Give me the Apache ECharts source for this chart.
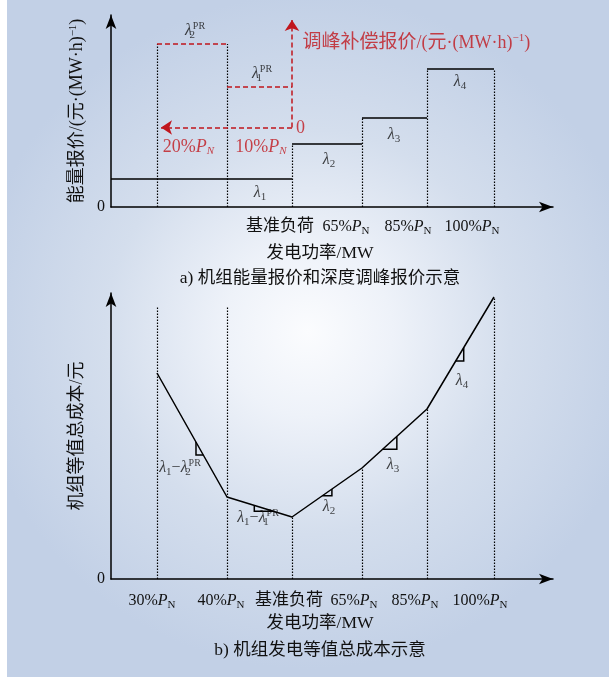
<!DOCTYPE html>
<html>
<head>
<meta charset="utf-8">
<script src="https://cdn.jsdelivr.net/npm/echarts@6/dist/echarts.min.js"></script>
<style>
  html, body { margin: 0; padding: 0; background: #fff; }
  #main { width: 609px; height: 677px; }
</style>
</head>
<body>
<div id="main"></div>
<script>
// load levels on the power axis (schematic positions)
var loadNames = ['30%', '40%', '基准负荷', '65%', '85%', '100%'];
var loadX = [4.6, 11.6, 18.1, 25.1, 31.6, 38.3];
// a) energy price steps lambda1..lambda4
var energyPrice = [2.8, 6.3, 8.95, 13.8];
// deep peak regulation price: zero of its own axis, lambda1PR, lambda2PR above it
var prZero = 7.95;
var prPrice = [4.1, 8.35];
// b) equivalent total cost at each load level
var totalCost = [20.6, 8.2, 6.2, 11.1, 17.0, 28.2];

var SERIF = "'Liberation Serif', 'Noto Sans CJK SC', serif";
var INK = '#111111';
var RED = '#c0161d';
var topMax = 19.2, botMax = 28.6, xMax = 44.2;

function richSet(color) {
  return {
    t: { fontFamily: SERIF, fontSize: 16, color: color, lineHeight: 20 },
    cn: { fontFamily: SERIF, fontSize: 17, color: color, lineHeight: 20 },
    i: { fontFamily: SERIF, fontSize: 16, fontStyle: 'italic', color: color, lineHeight: 20 },
    s: { fontFamily: SERIF, fontSize: 11, color: color, verticalAlign: 'bottom', lineHeight: 13 },
    si: { fontFamily: SERIF, fontSize: 11, fontStyle: 'italic', color: color, verticalAlign: 'bottom', lineHeight: 13 },
    k: { fontFamily: SERIF, fontSize: 11, color: color, verticalAlign: 'bottom', lineHeight: 13, width: 1 },
    p: { fontFamily: SERIF, fontSize: 10, color: color, verticalAlign: 'top', lineHeight: 11 }
  };
}
var blackRich = richSet(INK);
var redRich = richSet(RED);
redRich.t.fontSize = 18;
redRich.i.fontSize = 18;
redRich.cn.fontSize = 19;
redRich.p.fontSize = 11;
// tick labels sit a little left of their load level in the original (axis units)
var tickShift = [0.5, 0.6, 0.3, 0.8, 1.2, 1.4];
var tickShiftTop = [0, 0, 1.2, 1.6, 1.9, 2.2];

function lam(n) { return '{i|λ}{s|' + n + '}'; }
function lamPR(n) { return '{i|λ}{k|' + n + '}{p|PR}'; }
function nearestLoad(v) {
  var best = 0;
  loadX.forEach(function (x, i) { if (Math.abs(x - v) < Math.abs(loadX[best] - v)) best = i; });
  return best;
}
function tickText(v) {
  var name = loadNames[nearestLoad(v)];
  return name.indexOf('%') >= 0 ? '{t|' + name + '}{i|P}{s|N}' : '{cn|' + name + '}';
}

// a) segments
var stepEdges = [0, loadX[2], loadX[3], loadX[4], loadX[5]];
var stepLines = energyPrice.map(function (v, i) {
  return { coords: [[stepEdges[i], v], [stepEdges[i + 1], v]] };
});
var prTop = prZero + prPrice[1];
var prMid = prZero + prPrice[0];
var topDots = [
  [loadX[0], prTop], [loadX[1], prTop], [loadX[2], energyPrice[1]],
  [loadX[3], energyPrice[2]], [loadX[4], energyPrice[3]], [loadX[5], energyPrice[3]]
].map(function (p) { return { coords: [[p[0], 0], p] }; });
var prLines = [
  { coords: [[loadX[0], prTop], [loadX[1], prTop]] },
  { coords: [[loadX[1], prMid], [loadX[2], prMid]] }
];
var prArrows = [
  { coords: [[loadX[2], prZero], [loadX[2], topMax - 0.5]] },
  { coords: [[loadX[2], prZero], [loadX[0] + 0.4, prZero]] }
];

// b) segments
var costPts = loadX.map(function (x, i) { return [x, totalCost[i]]; });
var botDots = costPts.map(function (p, i) {
  return { coords: [[p[0], 0], [p[0], i < 2 ? 27.3 : p[1]]] };
});
// slope marks: [fraction along segment, length fraction]
var slopeMarks = [[0.557, 0.104], [0.42, 0.29], [0.434, 0.136], [0.319, 0.217], [0.428, 0.12]];
function onCurve(i, t) {
  return [loadX[i] + (loadX[i + 1] - loadX[i]) * t, totalCost[i] + (totalCost[i + 1] - totalCost[i]) * t];
}
var triangles = slopeMarks.map(function (m, i) {
  var a = onCurve(i, m[0]), b = onCurve(i, m[0] + m[1]);
  var corner = totalCost[i + 1] < totalCost[i] ? [a[0], b[1]] : [b[0], a[1]];
  return { coords: [a, corner, b] };
});

function textItem(pos, fmt, rich, where) {
  return {
    value: pos,
    label: { show: true, formatter: fmt, rich: rich, position: where || 'inside', distance: 0 }
  };
}
var topLabels = [
  textItem([8.4, 17.6], lamPR(2), blackRich),
  textItem([15.1, 13.3], lamPR(1), blackRich),
  textItem([14.9, 1.4], lam(1), blackRich),
  textItem([21.8, 4.7], lam(2), blackRich),
  textItem([28.3, 7.2], lam(3), blackRich),
  textItem([34.9, 12.5], lam(4), blackRich),
  textItem([7.75, 6.0], '{t|20%}{i|P}{si|N}', redRich),
  textItem([15.0, 6.0], '{t|10%}{i|P}{si|N}', redRich),
  textItem([18.45, 7.9], '{t|0}', redRich, 'right'),
  textItem([19.1, 16.4], '{cn|调峰补偿报价}{t|/(}{cn|元}{t|·(MW·h)}{p|−1}{t|)}', redRich, 'right')
];
var botLabels = [
  textItem([6.9, 11.1], lam(1) + '{t|−}' + lamPR(2), blackRich),
  textItem([14.7, 6.1], lam(1) + '{t|−}' + lamPR(1), blackRich),
  textItem([21.8, 7.2], lam(2), blackRich),
  textItem([28.2, 11.4], lam(3), blackRich),
  textItem([35.1, 19.8], lam(4), blackRich)
];

function xAxisCfg(grid, first, shifts, margin) {
  var vals = [];
  for (var i = first; i < loadX.length; i++) vals.push(loadX[i] - shifts[i]);
  return {
    gridIndex: grid, type: 'value', min: 0, max: xMax,
    axisLine: { symbol: ['none', 'arrow'], symbolSize: [8, 14], lineStyle: { color: '#000', width: 1.5 } },
    axisTick: { show: false }, splitLine: { show: false },
    axisLabel: {
      customValues: vals, margin: margin, rich: blackRich, hideOverlap: false,
      showMinLabel: true, showMaxLabel: true, formatter: tickText
    }
  };
}
function yAxisCfg(grid, max, name, gap) {
  return {
    gridIndex: grid, type: 'value', min: 0, max: max,
    name: name, nameLocation: 'middle', nameGap: gap, nameRotate: 90,
    nameTextStyle: {
      fontFamily: SERIF, fontSize: 18, color: INK,
      rich: { sup: { fontFamily: SERIF, fontSize: 11, color: INK, verticalAlign: 'top', lineHeight: 10 } }
    },
    axisLine: { symbol: ['none', 'arrow'], symbolSize: [8, 14], lineStyle: { color: '#000', width: 1.5 } },
    axisTick: { show: false }, splitLine: { show: false },
    axisLabel: { customValues: [0], margin: 6, fontFamily: SERIF, fontSize: 16, color: INK }
  };
}

var dotted = { color: '#000', width: 1.2, type: [1.5, 1.5], opacity: 1 };
var redDash = { color: RED, width: 1.5, type: [5, 3], opacity: 1 };
var solid = { color: '#000', width: 1.5, opacity: 1 };

function caption(text, y) {
  return { type: 'text', x: 320, y: y, silent: true,
    style: { text: text, font: '17.5px ' + SERIF, fill: INK, align: 'center', verticalAlign: 'middle' } };
}

var option = {
  backgroundColor: '#ffffff',
  animation: false,
  graphic: [
    {
      type: 'rect', z: -10, silent: true,
      shape: { x: 7, y: 0, width: 602, height: 677 },
      style: {
        fill: new echarts.graphic.RadialGradient(0.5, 0.49, 0.56, [
          { offset: 0, color: '#fbfcfe' },
          { offset: 0.25, color: '#eef2f9' },
          { offset: 0.6, color: '#d4deed' },
          { offset: 1, color: '#c2d0e6' }
        ])
      }
    },
    caption('发电功率/MW', 253),
    caption('a) 机组能量报价和深度调峰报价示意', 278),
    caption('发电功率/MW', 623),
    caption('b) 机组发电等值总成本示意', 650)
  ],
  grid: [
    { left: 111, top: 15, width: 442, height: 192 },
    { left: 111, top: 293, width: 442, height: 286 }
  ],
  xAxis: [
    xAxisCfg(0, 2, tickShiftTop, 10),
    xAxisCfg(1, 0, tickShift, 12)
  ],
  yAxis: [
    yAxisCfg(0, topMax, '能量报价/(元·(MW·h){sup|−1})', 24),
    yAxisCfg(1, botMax, '机组等值总成本/元', 24)
  ],
  series: [
    { type: 'lines', coordinateSystem: 'cartesian2d', xAxisIndex: 0, yAxisIndex: 0, silent: true,
      data: topDots, lineStyle: dotted },
    { type: 'lines', coordinateSystem: 'cartesian2d', xAxisIndex: 0, yAxisIndex: 0, silent: true,
      data: stepLines, lineStyle: solid },
    { type: 'lines', coordinateSystem: 'cartesian2d', xAxisIndex: 0, yAxisIndex: 0, silent: true,
      data: prLines, lineStyle: redDash },
    { type: 'lines', coordinateSystem: 'cartesian2d', xAxisIndex: 0, yAxisIndex: 0, silent: true,
      data: prArrows, lineStyle: redDash, symbol: ['none', 'arrow'], symbolSize: 11 },
    { type: 'scatter', xAxisIndex: 0, yAxisIndex: 0, silent: true, symbolSize: 1,
      itemStyle: { color: 'rgba(0,0,0,0)' }, data: topLabels },

    { type: 'lines', coordinateSystem: 'cartesian2d', xAxisIndex: 1, yAxisIndex: 1, silent: true,
      data: botDots, lineStyle: dotted },
    { type: 'line', xAxisIndex: 1, yAxisIndex: 1, silent: true, symbol: 'none',
      data: costPts, lineStyle: solid },
    { type: 'lines', coordinateSystem: 'cartesian2d', xAxisIndex: 1, yAxisIndex: 1, silent: true,
      polyline: true, data: triangles, lineStyle: solid },
    { type: 'scatter', xAxisIndex: 1, yAxisIndex: 1, silent: true, symbolSize: 1,
      itemStyle: { color: 'rgba(0,0,0,0)' }, data: botLabels }
  ]
};

var chart = echarts.init(document.getElementById('main'));
chart.setOption(option);
</script>
</body>
</html>
